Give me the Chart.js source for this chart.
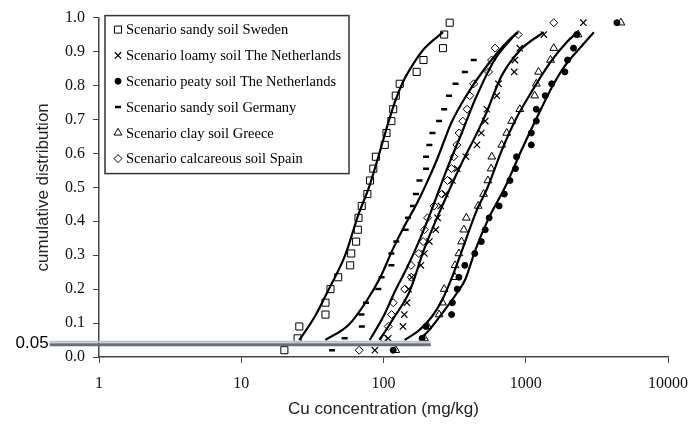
<!DOCTYPE html>
<html>
<head>
<meta charset="utf-8">
<script src="https://cdn.jsdelivr.net/npm/chart.js@4.4.1/dist/chart.umd.min.js"></script>
<style>
  html, body { margin: 0; padding: 0; background: #fff; }
  #wrap { width: 699px; height: 429px; position: relative; }
</style>
</head>
<body>
<div id="wrap"><canvas id="chart"></canvas></div>
<script>
// cumulative probability of each ranked sample (y of every marker)
const rankProb = [0.02, 0.055, 0.09, 0.125, 0.16, 0.2, 0.235, 0.27, 0.305, 0.34, 0.375, 0.41, 0.445, 0.48,
  0.52, 0.555, 0.59, 0.625, 0.66, 0.695, 0.73, 0.77, 0.805, 0.84, 0.875, 0.91, 0.95, 0.985];

// measured Cu concentrations (mg/kg), sorted
const swedenX = [20.1, 24.9, 25.6, 39.1, 39.1, 42.4, 48, 58.3, 59.3, 64.2, 66, 66.7, 70.3, 77,
  80.4, 84.8, 88.4, 102, 105, 113.6, 117, 122, 130, 171, 191, 262, 267, 292];
const loamyX = [87, 108, 137, 140, 146, 150, 158, 183, 194, 210, 233, 240, 253, 272,
  305, 330, 380, 454, 487, 519, 533, 626, 643, 830, 839, 908, 1340, 2540];
const peatyX = [117, 187, 199, 301, 305, 330, 339, 373, 438, 487, 519, 553, 650, 707,
  774, 847, 861, 1094, 1094, 1186, 1186, 1371, 1522, 1884, 1968, 2166, 2283, 4375];
const germanyX = [43.5, 53.3, 70.4, 70, 75.3, 91.9, 96.9, 113.6, 113.6, 123, 143, 148.5, 161, 169,
  179, 199, 199, 210, 221, 246, 267, 289, 321, 373, 431];
const greeceX = [122, 194, 205, 246, 260, 267, 318, 318, 339, 354, 367, 382, 463, 505,
  542, 571, 577, 678, 735, 796, 908, 1155, 1186, 1231, 1493, 1574, 2334, 4667];
const spainX = [67.5, 99.5, 108, 114, 117, 141, 157, 156, 177, 190, 194, 204, 227, 257,
  282, 301, 312, 328, 340, 361, 387, 404, 431, 547, 575, 609, 885, 1574];

// fitted distribution curves
const swedenFitX = [25.6, 33, 41.3, 53.8, 66.7, 79, 92, 105, 120, 137, 160, 193, 262];
const swedenFitY = [0.05, 0.12, 0.2, 0.3, 0.42, 0.5, 0.59, 0.673, 0.75, 0.81, 0.86, 0.908, 0.957];
const germanyFitX = [39, 57, 76, 95, 117, 140, 169, 200, 239, 300, 377, 547, 754, 885];
const germanyFitY = [0.05, 0.095, 0.165, 0.235, 0.32, 0.385, 0.447, 0.51, 0.584, 0.69, 0.766, 0.864, 0.932, 0.957];
const spainFitX = [80, 100, 120, 145, 169, 215, 274, 357, 442, 609, 861];
const spainFitY = [0.05, 0.12, 0.192, 0.26, 0.32, 0.427, 0.545, 0.663, 0.76, 0.878, 0.955];
const loamyFitX = [94, 120, 152, 194, 260, 357, 442, 519, 678, 933, 1340];
const loamyFitY = [0.05, 0.12, 0.192, 0.32, 0.447, 0.574, 0.65, 0.712, 0.829, 0.908, 0.957];
const greeceFitX = [141, 179, 220, 260, 300, 357, 450, 540, 678, 850, 1094, 1500, 1968, 2307];
const greeceFitY = [0.05, 0.08, 0.12, 0.17, 0.23, 0.315, 0.43, 0.5, 0.609, 0.7, 0.78, 0.87, 0.93, 0.957];
const peatyFitX = [179, 210, 260, 330, 377, 442, 550, 715, 933, 1219, 1550, 1900, 2400, 3013];
const peatyFitY = [0.05, 0.08, 0.13, 0.19, 0.23, 0.315, 0.41, 0.5, 0.609, 0.712, 0.8, 0.86, 0.91, 0.957];

// 0.05 reference line
const refLineX = [0.45, 215];
const refLineY = 0.05;

const xTicks = [1, 10, 100, 1000, 10000];

const serif = "'Liberation Serif', 'Times New Roman', serif";
const sans = "'Liberation Sans', Arial, sans-serif";

function pts(xs, ys) {
  return xs.map((x, i) => ({ x: x, y: ys[i] }));
}

function markers(label, xs, style, radius, fill, bw) {
  return {
    legendLabel: label,
    data: pts(xs, rankProb),
    pointStyle: style,
    pointRadius: radius,
    pointBorderWidth: bw,
    pointBorderColor: "#000",
    pointBackgroundColor: fill,
    showLine: false,
  };
}

function fit(xs, ys) {
  return {
    data: pts(xs, ys),
    showLine: true,
    borderColor: "#000",
    borderWidth: 2.2,
    pointRadius: 0,
    cubicInterpolationMode: "monotone",
  };
}

const datasets = [
  // reference band at 0.05 (drawn on top)
  { data: pts(refLineX, [refLineY - 0.005, refLineY - 0.005]), showLine: true, borderColor: "#b4c4dc", borderWidth: 2, pointRadius: 0, clip: false },
  { data: pts(refLineX, [refLineY - 0.014, refLineY - 0.014]), showLine: true, borderColor: "#6e6e6e", borderWidth: 3, pointRadius: 0, clip: false },
  markers("Scenario sandy soil Sweden", swedenX, "rect", 5, "rgba(0,0,0,0)", 1),
  markers("Scenario loamy soil The Netherlands", loamyX, "crossRot", 4.5, "rgba(0,0,0,0)", 1.2),
  markers("Scenario peaty soil The Netherlands", peatyX, "circle", 3, "#000", 1),
  markers("Scenario sandy soil Germany", germanyX, "line", 3, "#000", 2.5),
  markers("Scenario clay soil Greece", greeceX, "triangle", 4.5, "rgba(0,0,0,0)", 1),
  markers("Scenario calcareous soil Spain", spainX, "rectRot", 4, "rgba(0,0,0,0)", 1),
  fit(swedenFitX, swedenFitY),
  fit(germanyFitX, germanyFitY),
  fit(spainFitX, spainFitY),
  fit(loamyFitX, loamyFitY),
  fit(greeceFitX, greeceFitY),
  fit(peatyFitX, peatyFitY),
];

// boxed legend inside the plot, markers only
const legendBox = {
  id: "legendBox",
  afterDatasetsDraw(chart) {
    const { ctx, chartArea } = chart;
    const left = chartArea.left + 6;
    const top = chartArea.top - 2;
    const w = 244, h = 158;
    ctx.save();
    ctx.fillStyle = "#fff";
    ctx.fillRect(left, top, w, h);
    ctx.strokeStyle = "#333";
    ctx.lineWidth = 1.5;
    ctx.strokeRect(left, top, w, h);
    ctx.font = "14.5px " + serif;
    ctx.textBaseline = "middle";
    let row = 0;
    chart.data.datasets.forEach((ds) => {
      if (!ds.legendLabel) return;
      const y = top + 14 + row * 25.8;
      ctx.fillStyle = ds.pointBackgroundColor;
      ctx.strokeStyle = "#000";
      ctx.lineWidth = ds.pointBorderWidth;
      Chart.helpers.drawPoint(ctx, { pointStyle: ds.pointStyle, radius: ds.pointRadius, rotation: 0, borderWidth: ds.pointBorderWidth }, left + 13, y);
      ctx.fillStyle = "#000";
      ctx.fillText(ds.legendLabel, left + 21, y + 1);
      row++;
    });
    ctx.restore();
  },
  afterDraw(chart) {
    const { ctx } = chart;
    const xs = chart.scales.x, ys = chart.scales.y;
    ctx.save();
    ctx.font = "17px " + sans;
    ctx.fillStyle = "#000";
    ctx.textAlign = "right";
    ctx.textBaseline = "middle";
    ctx.fillText("0.05", xs.getPixelForValue(refLineX[0]) - 1, ys.getPixelForValue(refLineY - 0.01));
    ctx.restore();
  },
};

new Chart(document.getElementById("chart"), {
  type: "scatter",
  data: { datasets: datasets },
  plugins: [legendBox],
  options: {
    responsive: true,
    maintainAspectRatio: false,
    animation: false,
    layout: { padding: { top: 17, right: 24, bottom: 0, left: 0 } },
    plugins: { legend: { display: false }, tooltip: { enabled: false } },
    scales: {
      x: {
        type: "logarithmic",
        min: 1,
        max: 10000,
        afterBuildTicks: (s) => { s.ticks = xTicks.map((v) => ({ value: v })); },
        afterFit: (s) => { s.height = 72; },
        ticks: { callback: (v) => String(v), font: { family: serif, size: 16 }, color: "#111", padding: 11, maxRotation: 0, autoSkip: false },
        grid: { drawOnChartArea: false, tickLength: 6, color: "#444" },
        border: { color: "#444", width: 1.5 },
        title: { display: true, text: "Cu concentration (mg/kg)", font: { family: sans, size: 17 }, color: "#222", padding: { top: 0, bottom: 9 } },
      },
      y: {
        min: 0,
        max: 1,
        afterFit: (s) => { s.width = 99; },
        ticks: { stepSize: 0.1, callback: (v) => v.toFixed(1), font: { family: serif, size: 16 }, color: "#111", padding: 8 },
        grid: { drawOnChartArea: false, tickLength: 6, color: "#444" },
        border: { color: "#444", width: 1.5 },
        title: { display: true, text: "cumulative distribution", font: { family: sans, size: 17 }, color: "#222", padding: { top: 33, bottom: 0 } },
      },
    },
  },
});
</script>
</body>
</html>
